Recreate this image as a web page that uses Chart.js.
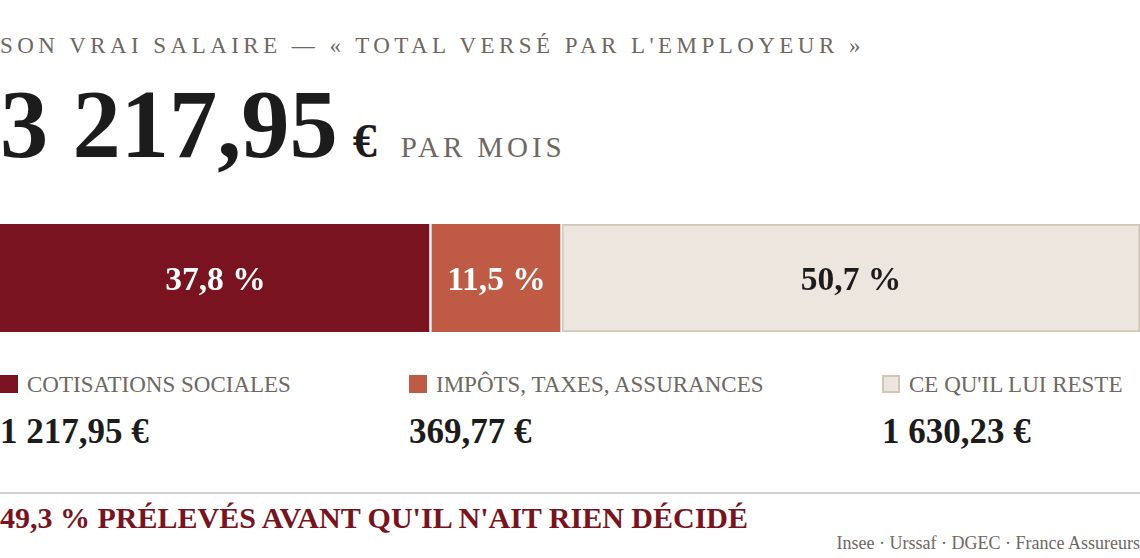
<!DOCTYPE html>
<html lang="fr">
<head>
<meta charset="utf-8">
<script src="https://cdn.jsdelivr.net/npm/chart.js@4/dist/chart.umd.min.js"></script>
<style>
    html, body { margin: 0; padding: 0; background: #fff; }
    body { width: 1140px; height: 558px; position: relative; overflow: hidden; font-family: 'Liberation Serif', 'DejaVu Serif', serif; }
    .abs { position: absolute; white-space: nowrap; }
    #kicker { left: 0; top: 31px; font-size: 23px; letter-spacing: 4.45px; color: #6e6862; line-height: 30px; }
    #total { left: 0; top: 70px; line-height: 110px; color: #1c1c1c; }
    #total .num { font-size: 96.5px; font-weight: bold; }
    #total .cur { font-size: 48px; font-weight: bold; margin-left: 15px; }
    #total .unit { font-size: 29px; letter-spacing: 3.9px; color: #6e6862; margin-left: 24px; }
    #barWrap { left: 0; top: 224px; width: 1140px; height: 108px; }
    .leg { top: 372px; }
    .leg .lab { font-size: 23px; color: #6e6862; line-height: 26px; }
    .leg .sw { display: inline-block; width: 18px; height: 18px; box-sizing: border-box; vertical-align: -1px; margin-right: 9px; }
    .leg .val { font-size: 35px; font-weight: bold; color: #1c1c1c; margin-top: 14px; line-height: 40px; }
    #rule { left: 0; top: 492px; width: 1140px; height: 2px; background: #d4d2cf; }
    #punch { left: 0; top: 500px; font-size: 30px; font-weight: bold; color: #7a1320; line-height: 36px; }
    #source { right: 0; top: 533px; font-size: 18px; color: #6e6862; line-height: 20px; }
</style>
</head>
<body>
<div id="kicker" class="abs">SON VRAI SALAIRE — « TOTAL VERSÉ PAR L'EMPLOYEUR »</div>
<div id="total" class="abs"><span class="num">3 217,95</span><span class="cur">€</span><span class="unit">PAR MOIS</span></div>
<div id="barWrap" class="abs"><canvas id="salaryBar"></canvas></div>
<div id="legend"></div>
<div id="rule" class="abs"></div>
<div id="punch" class="abs">49,3 % PRÉLEVÉS AVANT QU'IL N'AIT RIEN DÉCIDÉ</div>
<div id="source" class="abs">Insee · Urssaf · DGEC · France Assureurs</div>

<script>
// DONNEES
const categories = ['COTISATIONS SOCIALES', 'IMPÔTS, TAXES, ASSURANCES', "CE QU'IL LUI RESTE"]
const shares = [37.8, 11.5, 50.7]
const amounts = ['1 217,95 €', '369,77 €', '1 630,23 €']
const shareLabels = ['37,8 %', '11,5 %', '50,7 %']

const fills = ['#7a1320', '#bf5a45', '#ede6df']
const textColors = ['#ffffff', '#ffffff', '#1c1c1c']
const legendLeft = [0, 409, 882]

// LEGENDE
const legendEl = document.getElementById('legend')
categories.forEach((cat, i) => {
    const div = document.createElement('div')
    div.className = 'abs leg'
    div.style.left = legendLeft[i] + 'px'
    const border = i === 2 ? 'border:2px solid #cfc8b9;' : ''
    div.innerHTML =
        `<div class="lab"><span class="sw" style="background:${fills[i]};${border}"></span>${cat}</div>` +
        `<div class="val">${amounts[i]}</div>`
    legendEl.appendChild(div)
})

// ETIQUETTES DANS LA BARRE
const segmentLabels = {
    id: 'segmentLabels',
    afterDatasetsDraw(chart) {
        const ctx = chart.ctx
        ctx.save()
        ctx.font = "bold 33.5px 'Liberation Serif', serif"
        ctx.textAlign = 'center'
        ctx.textBaseline = 'middle'
        chart.data.datasets.forEach((ds, i) => {
            const bar = chart.getDatasetMeta(i).data[0]
            const cx = (bar.x + bar.base) / 2
            ctx.fillStyle = textColors[i]
            ctx.fillText(shareLabels[i], cx, bar.y + 3)
        })
        ctx.restore()
    }
}

new Chart(document.getElementById('salaryBar'), {
    type: 'bar',
    data: {
        labels: ['salaire'],
        datasets: [
            {
                label: categories[0],
                data: [shares[0]],
                backgroundColor: fills[0],
                borderColor: '#ffffff',
                borderWidth: { right: 2, left: 0, top: 0, bottom: 0 },
                borderSkipped: false
            },
            {
                label: categories[1],
                data: [shares[1]],
                backgroundColor: fills[1],
                borderColor: '#ffffff',
                borderWidth: { left: 1, right: 2, top: 0, bottom: 0 },
                borderSkipped: false
            },
            {
                label: categories[2],
                data: [shares[2]],
                backgroundColor: fills[2],
                borderColor: '#cfc8b9',
                borderWidth: 2,
                borderSkipped: false
            }
        ]
    },
    options: {
        indexAxis: 'y',
        responsive: true,
        maintainAspectRatio: false,
        animation: false,
        layout: { padding: 0 },
        datasets: { bar: { categoryPercentage: 1, barPercentage: 1 } },
        plugins: { legend: { display: false }, tooltip: { enabled: false } },
        scales: {
            x: { stacked: true, min: 0, max: 100, display: false },
            y: { stacked: true, display: false }
        }
    },
    plugins: [segmentLabels]
})
</script>
</body>
</html>
